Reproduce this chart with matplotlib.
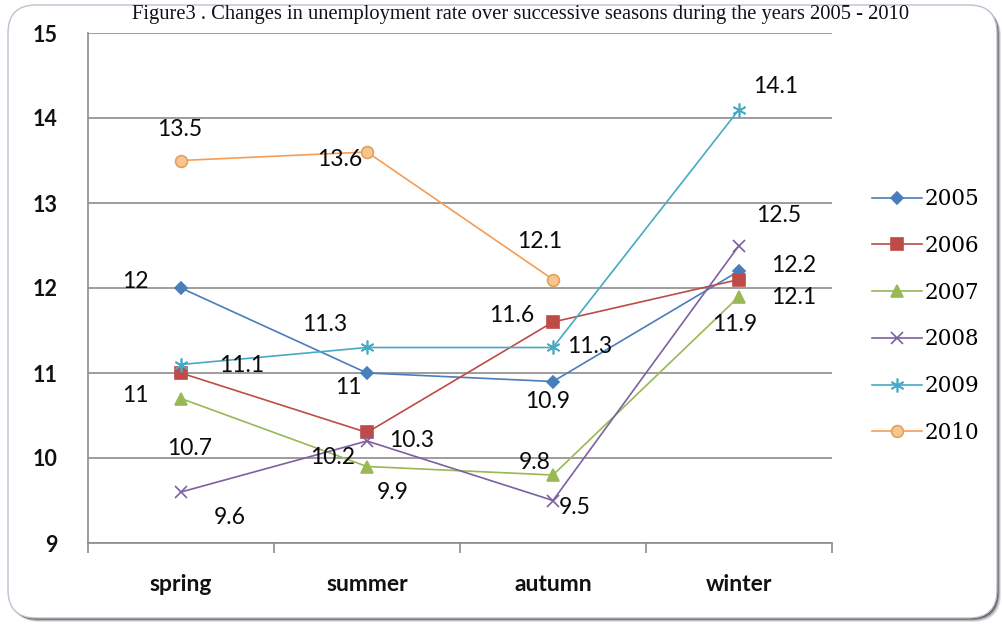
import matplotlib
matplotlib.use("Agg")
import matplotlib.pyplot as plt
from matplotlib.patches import FancyBboxPatch
from matplotlib.transforms import IdentityTransform
import numpy as np

# ---- data ----
seasons = ["spring", "summer", "autumn", "winter"]
years = ["2005", "2006", "2007", "2008", "2009", "2010"]
v2005 = [12, 11, 10.9, 12.2]
v2006 = [11, 10.3, 11.6, 12.1]
v2007 = [10.7, 9.9, 9.8, 11.9]
v2008 = [9.6, 10.2, 9.5, 12.5]
v2009 = [11.1, 11.3, 11.3, 14.1]
v2010 = [13.5, 13.6, 12.1, None]
series = [v2005, v2006, v2007, v2008, v2009, v2010]
yticks = [9, 10, 11, 12, 13, 14, 15]
title = "Figure3 . Changes in unemployment rate over successive seasons during the years 2005 - 2010"

# ---- styles ----
colors = ["#4A7EBB", "#BE4B48", "#98B954", "#7D60A0", "#46AAC5", "#F59D56"]
markers = ["D", "s", "^", "x", (6, 2, 0), "o"]
msizes = [6, 8.5, 8, 8, 10, 8.5]
mfaces = ["#4A7EBB", "#BE4B48", "#98B954", "#7D60A0", "#46AAC5", "#F9C58E"]
medges = ["#4A7EBB", "#BE4B48", "#98B954", "#7D60A0", "#46AAC5", "#E0A060"]
# label offsets in pixels (dx, dy) per series / point
offsets = [
    [(-46, 7), (-19, -14), (-5, -20), (55, 6)],
    [(-46, -23), (45, -8), (-41, 7), (55, -18)],
    [(9, -50), (26, -26), (-18, 12), (-4, -28)],
    [(49, -26), (-34, -16), (22, -7), (40, 30)],
    [(61, -1), (-42, 23), (37, 1), (37, 23)],
    [(-1, 31), (-27, -8), (-13, 38), (0, 0)],
]

W, H = 1003, 625
fig = plt.figure(figsize=(W / 100, H / 100), dpi=100)
fig.patch.set_facecolor("white")

# rounded frame with shadow
ident = IdentityTransform()
for i, a in enumerate([0.12, 0.2, 0.35, 0.6]):
    off = 4 - i
    sh = FancyBboxPatch((8 + 30 + off, 7 + 30 - off), 989 - 60, 613 - 60,
                        boxstyle="round,pad=30,rounding_size=28",
                        transform=ident, facecolor="#1a1a1a", edgecolor="none",
                        alpha=a, zorder=-3)
    fig.patches.append(sh)
frame = FancyBboxPatch((8 + 30, 7 + 30), 989 - 60, 613 - 60,
                       boxstyle="round,pad=30,rounding_size=28",
                       transform=ident, facecolor="white", edgecolor="#B8C4D0",
                       linewidth=1.0, zorder=-2)
fig.patches.append(frame)

ax = fig.add_axes([88 / W, (H - 543) / H, (832 - 88) / W, (543 - 33) / H])
ax.set_facecolor("none")
ax.set_zorder(1)
x = np.arange(len(seasons))

for s, yr, c, m, ms, mf, me, offs in zip(series, years, colors, markers, msizes,
                                          mfaces, medges, offsets):
    xs = [xi for xi, v in zip(x, s) if v is not None]
    ys = [v for v in s if v is not None]
    ax.plot(xs, ys, color=c, linewidth=1.2, marker=m, markersize=ms,
            markerfacecolor=mf, markeredgecolor=me, markeredgewidth=1.2,
            label=yr, zorder=3)
    for xi, v, (dx, dy) in zip(xs, ys, offs):
        ax.annotate(f"{v:g}", (xi, v), xytext=(dx, dy), textcoords="offset pixels",
                    ha="center", va="center", fontsize=16.5, family="Lato",
                    color="#0a0a0a", zorder=4)

ax.set_xlim(-0.5, len(seasons) - 0.5)
ax.set_ylim(9, 15)
ax.set_yticks(yticks)
ax.set_yticklabels([str(t) for t in yticks], family="Lato", fontweight="bold",
                   fontsize=15.5, color="#111111")
ax.tick_params(axis="y", length=0, pad=22)
for t in yticks:
    ax.axhline(t, color="#8C8C8C", linewidth=1.2, zorder=1)

ax.set_xticks(np.arange(-0.5, len(seasons), 1.0))
ax.set_xticklabels([])
ax.tick_params(axis="x", which="major", length=7, direction="out", color="#8C8C8C",
               width=1.2)
ax.set_xticks(x, minor=True)
ax.set_xticklabels(seasons, minor=True, family="Lato", fontweight="bold",
                   fontsize=16.5, color="#111111")
ax.tick_params(axis="x", which="minor", length=0, pad=22)

for sp in ["top", "right"]:
    ax.spines[sp].set_visible(False)
for sp in ["left", "bottom"]:
    ax.spines[sp].set_color("#8C8C8C")
    ax.spines[sp].set_linewidth(1.2)

leg = fig.legend(loc="center left", bbox_to_anchor=(872 / W, 1 - 316 / H),
                 frameon=False, borderpad=0, borderaxespad=0,
                 prop={"family": "DejaVu Serif", "size": 15.5},
                 labelspacing=1.15, handlelength=2.3, handletextpad=0.15)

fig.text(521 / W, 1 - 15 / H, title, ha="center", va="center",
         family="Liberation Serif", fontsize=14.8, color="#111111")

fig.savefig("out.png", dpi=100)
